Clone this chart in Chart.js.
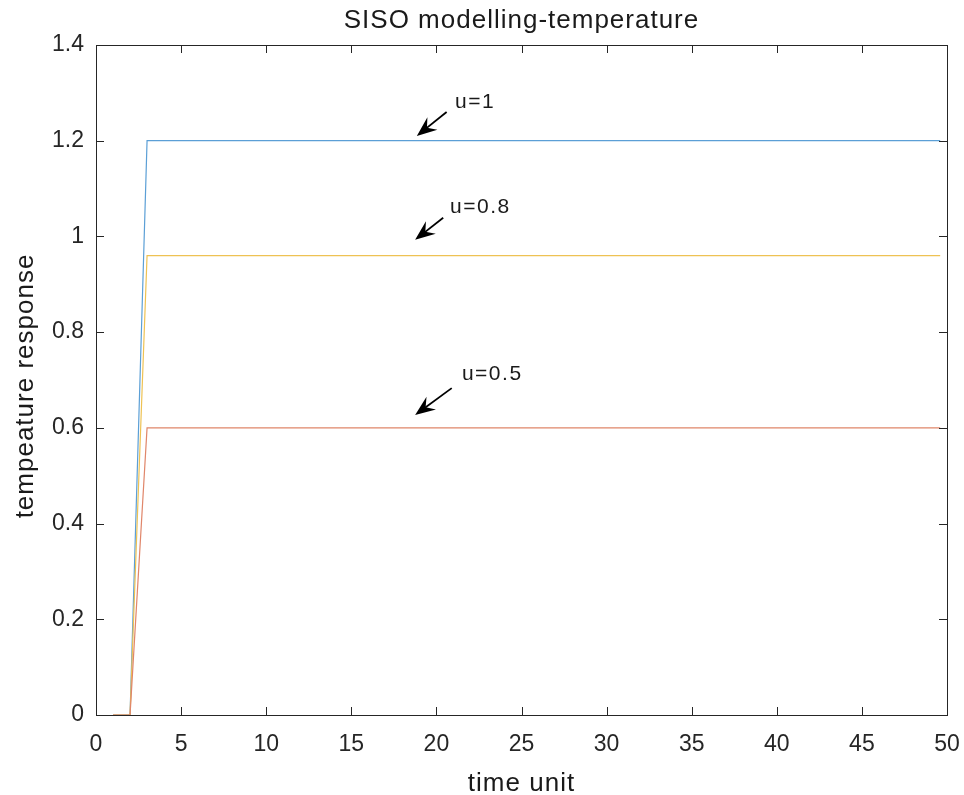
<!DOCTYPE html>
<html>
<head>
<meta charset="utf-8">
<script src="https://cdn.jsdelivr.net/npm/chart.js@4"></script>
<style>
  html, body { margin: 0; padding: 0; background: #fff; }
  canvas { display: block; }
</style>
</head>
<body>
<canvas id="chart1" width="964" height="795"></canvas>
<script>
// time samples and responses for each input level
var timeSteps = [1, 2, 3, 49.6];
var respU1 = [0, 0, 1.2, 1.2];
var respU08 = [0, 0, 0.96, 0.96];
var respU05 = [0, 0, 0.6, 0.6];

var xTicks = [0, 5, 10, 15, 20, 25, 30, 35, 40, 45, 50];
var yTicks = [0, 0.2, 0.4, 0.6, 0.8, 1, 1.2, 1.4];

// arrow annotations: text, text pos, tail, head (data units)
var annoText = ["u=1", "u=0.8", "u=0.5"];
var annoTextPos = [[21.1, 1.28], [20.8, 1.062], [21.5, 0.712]];
var annoTail = [[20.6, 1.26], [20.4, 1.039], [20.9, 0.683]];
var annoHead = [[18.85, 1.21], [18.75, 0.993], [18.75, 0.627]];

var axisColor = "#262626";
var fontFam = "'Liberation Sans', Arial, sans-serif";

function toPoints(xs, ys) {
    var pts = [];
    for (var i = 0; i < xs.length; i++) pts.push({x: xs[i], y: ys[i]});
    return pts;
}

function drawArrow(ctx, x1, y1, x2, y2) {
    var ang = Math.atan2(y2 - y1, x2 - x1);
    var len = 20, half = 8, back = 13;
    ctx.strokeStyle = "#000";
    ctx.lineWidth = 1.8;
    ctx.beginPath();
    ctx.moveTo(x1, y1);
    ctx.lineTo(x2 - Math.cos(ang) * 8, y2 - Math.sin(ang) * 8);
    ctx.stroke();
    ctx.fillStyle = "#000";
    ctx.beginPath();
    ctx.moveTo(x2, y2);
    ctx.lineTo(x2 - len * Math.cos(ang) + half * Math.sin(ang), y2 - len * Math.sin(ang) - half * Math.cos(ang));
    ctx.lineTo(x2 - back * Math.cos(ang), y2 - back * Math.sin(ang));
    ctx.lineTo(x2 - len * Math.cos(ang) - half * Math.sin(ang), y2 - len * Math.sin(ang) + half * Math.cos(ang));
    ctx.closePath();
    ctx.fill();
}

var boxPlugin = {
    id: "matlabBox",
    afterDatasetsDraw: function(chart) {
        var ctx = chart.ctx, a = chart.chartArea;
        var xs = chart.scales.x, ys = chart.scales.y;
        ctx.save();
        ctx.strokeStyle = axisColor;
        ctx.lineWidth = 1;
        ctx.strokeRect(a.left + 0.5, a.top + 0.5, a.right - a.left, a.bottom - a.top);
        var tl = 8;
        ctx.beginPath();
        xTicks.forEach(function(v) {
            var px = Math.round(xs.getPixelForValue(v)) + 0.5;
            ctx.moveTo(px, a.bottom); ctx.lineTo(px, a.bottom - tl);
            ctx.moveTo(px, a.top); ctx.lineTo(px, a.top + tl);
        });
        yTicks.forEach(function(v) {
            var py = Math.round(ys.getPixelForValue(v)) + 0.5;
            ctx.moveTo(a.left, py); ctx.lineTo(a.left + tl, py);
            ctx.moveTo(a.right, py); ctx.lineTo(a.right - tl, py);
        });
        ctx.stroke();

        // annotations
        for (var i = 0; i < annoText.length; i++) {
            drawArrow(ctx,
                xs.getPixelForValue(annoTail[i][0]), ys.getPixelForValue(annoTail[i][1]),
                xs.getPixelForValue(annoHead[i][0]), ys.getPixelForValue(annoHead[i][1]));
            ctx.fillStyle = "#1a1a1a";
            ctx.font = "21px " + fontFam;
            ctx.letterSpacing = "1.5px";
            ctx.textAlign = "left";
            ctx.textBaseline = "middle";
            ctx.fillText(annoText[i], xs.getPixelForValue(annoTextPos[i][0]), ys.getPixelForValue(annoTextPos[i][1]));
        }

        // title and axis labels
        ctx.fillStyle = "#1a1a1a";
        ctx.textAlign = "center";
        ctx.textBaseline = "alphabetic";
        ctx.letterSpacing = "1px";
        ctx.font = "26px " + fontFam;
        ctx.fillText("SISO modelling-temperature", (a.left + a.right) / 2, 28);
        ctx.fillText("time unit", (a.left + a.right) / 2, 791);
        ctx.translate(33, 386);
        ctx.rotate(-Math.PI / 2);
        ctx.fillText("tempeature response", 0, 0);
        ctx.restore();
    }
};

var ctx = document.getElementById("chart1");
var chart1 = new Chart(ctx, {
    type: "line",
    data: {
        datasets: [
            { label: "u=0.5", data: toPoints(timeSteps, respU05), borderColor: "#e0866a", borderWidth: 1.2 },
            { label: "u=0.8", data: toPoints(timeSteps, respU08), borderColor: "#eec253", borderWidth: 1.2 },
            { label: "u=1", data: toPoints(timeSteps, respU1), borderColor: "#5b9fd6", borderWidth: 1.2 }
        ]
    },
    options: {
        responsive: false,
        animation: false,
        elements: { point: { radius: 0 }, line: { tension: 0 } },
        layout: { padding: { top: 45, right: 17, left: 0, bottom: 0 } },
        plugins: { legend: { display: false }, title: { display: false }, tooltip: { enabled: false } },
        scales: {
            x: {
                type: "linear", min: 0, max: 50,
                afterFit: function(s) { s.height = 80; s.paddingLeft = 0; s.paddingRight = 0; },
                afterBuildTicks: function(s) { s.ticks = xTicks.map(function(v) { return {value: v}; }); },
                grid: { display: false, drawTicks: false },
                border: { display: false },
                ticks: { color: axisColor, font: { family: fontFam, size: 23 }, padding: 16, maxRotation: 0 }
            },
            y: {
                min: 0, max: 1.4,
                afterFit: function(s) { s.width = 96; s.paddingTop = 0; s.paddingBottom = 0; },
                afterBuildTicks: function(s) { s.ticks = yTicks.map(function(v) { return {value: v}; }); },
                grid: { display: false, drawTicks: false },
                border: { display: false },
                ticks: { color: axisColor, font: { family: fontFam, size: 23 }, padding: 12,
                    callback: function(v) { return String(+v.toFixed(1)); } }
            }
        }
    },
    plugins: [boxPlugin]
});
</script>
</body>
</html>
